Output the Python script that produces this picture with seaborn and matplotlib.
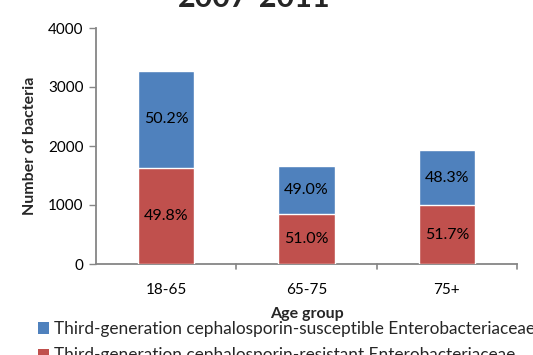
import matplotlib
matplotlib.use("Agg")
import matplotlib.pyplot as plt
import seaborn as sns
import pandas as pd
from matplotlib.patches import Patch

age_groups = ["18-65", "65-75", "75+"]
resistant = [1629, 847, 998]
susceptible = [1642, 814, 932]
resistant_pct = ["49.8%", "51.0%", "51.7%"]
susceptible_pct = ["50.2%", "49.0%", "48.3%"]
title = "2007-2011"
label_susceptible = "Third-generation cephalosporin-susceptible Enterobacteriaceae"
label_resistant = "Third-generation cephalosporin-resistant Enterobacteriaceae"

BLUE = "#4F81BD"
RED = "#C0504D"
AXIS = "#868686"

sns.set_theme(style="white")
plt.rcParams["font.family"] = ["Lato", "DejaVu Sans"]

df = pd.DataFrame({
    "age": age_groups,
    "resistant": resistant,
    "susceptible": susceptible,
})
df["total"] = df["resistant"] + df["susceptible"]

W, H = 533, 355
fig = plt.figure(figsize=(W / 100, H / 100), dpi=100)
ax = fig.add_axes([96 / W, 1 - 264 / H, 421 / W, 236 / H])

sns.barplot(data=df, x="age", y="total", color=BLUE, width=0.4,
            saturation=1, ax=ax, zorder=2)
sns.barplot(data=df, x="age", y="resistant", color=RED, width=0.4,
            saturation=1, ax=ax, zorder=3)

for i in range(len(age_groups)):
    r = resistant[i]
    s = susceptible[i]
    ax.text(i, r / 2, resistant_pct[i], ha="center", va="center",
            fontsize=11.5, color="black", zorder=5)
    ax.text(i, r + s / 2, susceptible_pct[i], ha="center", va="center",
            fontsize=11.5, color="black", zorder=5)

ax.set_ylim(0, 4000)
ax.set_xlim(-0.5, 2.5)
ax.set_yticks([0, 1000, 2000, 3000, 4000])
ax.tick_params(axis="y", labelsize=11, length=5, width=1, color=AXIS,
               left=True, pad=4, labelcolor="black")
ax.tick_params(axis="x", labelsize=11, length=0, pad=14, labelcolor="black")
for x in [0.5, 1.5, 2.5]:
    ax.plot([x, x], [0, -0.022], transform=ax.get_xaxis_transform(),
            color=AXIS, lw=1.2, clip_on=False)

ax.set_xlabel("Age group", fontsize=11.5, fontweight="bold", labelpad=7)
ax.set_ylabel("Number of bacteria", fontsize=11.5, fontweight="bold", labelpad=8)

for side in ["top", "right"]:
    ax.spines[side].set_visible(False)
for side in ["left", "bottom"]:
    ax.spines[side].set_color(AXIS)
    ax.spines[side].set_linewidth(1.3)

fig.text(254 / W, 1.005, title, ha="center", va="center",
         fontsize=22, fontweight="bold")

handles = [Patch(facecolor=BLUE, edgecolor="none", label=label_susceptible),
           Patch(facecolor=RED, edgecolor="none", label=label_resistant)]
fig.legend(handles=handles, loc="upper left", bbox_to_anchor=(38 / W, 1 - 321 / H),
           frameon=False, fontsize=12.4, handlelength=0.65, handleheight=0.65,
           handletextpad=0.25, labelspacing=0.6, borderaxespad=0, borderpad=0)

fig.savefig("out.png", dpi=100)
